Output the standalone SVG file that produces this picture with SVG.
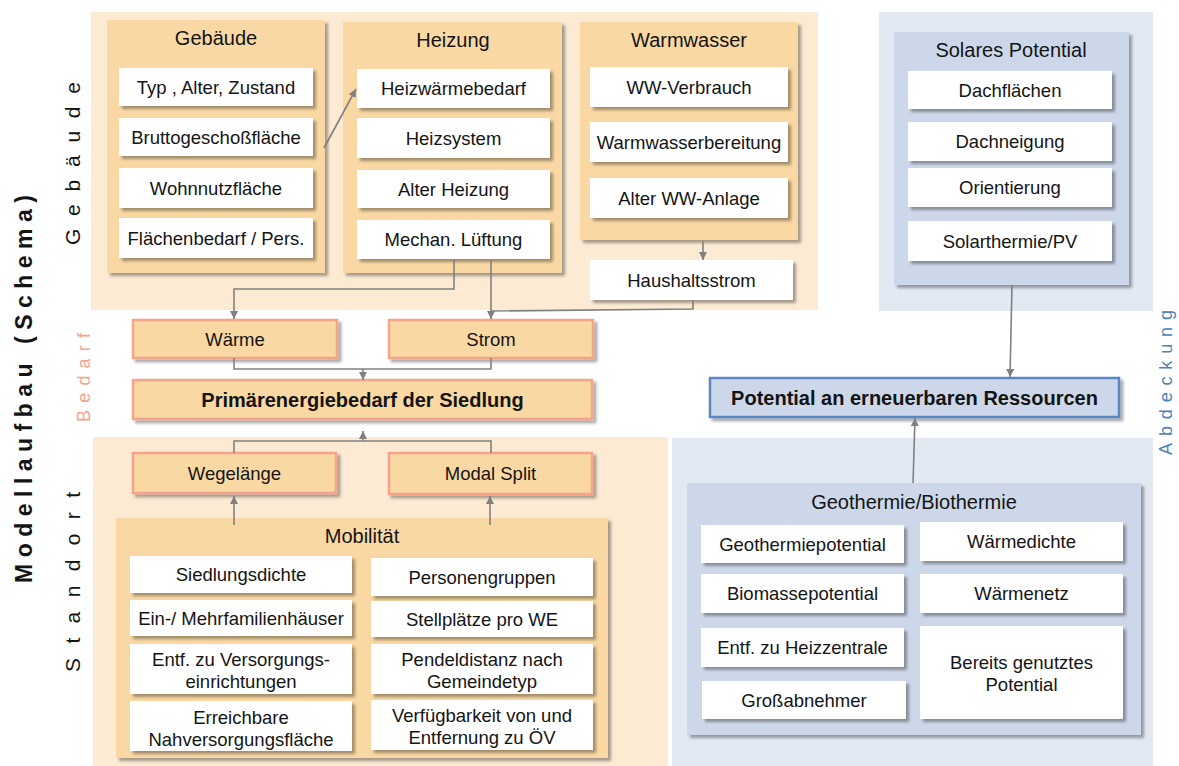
<svg xmlns="http://www.w3.org/2000/svg" width="1179" height="766" viewBox="0 0 1179 766">
<defs>
<filter id="sh" x="-10%" y="-10%" width="125%" height="140%">
<feDropShadow dx="3" dy="3" stdDeviation="1.6" flood-color="#000" flood-opacity="0.35"/>
</filter>
<marker id="ah" viewBox="0 0 8 8" refX="8" refY="4" markerWidth="8" markerHeight="8" markerUnits="userSpaceOnUse" orient="auto">
<path d="M0,0 L8,4 L0,8 z" fill="#808080"/>
</marker>
</defs>
<style>
text{font-family:"Liberation Sans",Arial,sans-serif;fill:#141414;}
.t{font-size:18.5px;text-anchor:middle;}
.ti{font-size:20px;text-anchor:middle;}
.b{font-size:20px;font-weight:bold;text-anchor:middle;}
.bgP{fill:#FCEAD3;}
.bgB{fill:#E3E9F2;}
.grP{fill:#F9D8A3;filter:url(#sh);}
.grB{fill:#CCD8E9;filter:url(#sh);}
.w{fill:#FFFFFF;filter:url(#sh);}
.s{fill:#F9D8A3;stroke:#F5A38B;stroke-width:2.5;filter:url(#sh);}
.pb{fill:#CCD8E9;stroke:#5A86C2;stroke-width:2.5;filter:url(#sh);}
.c{fill:none;stroke:#808080;stroke-width:1.6;}
.ca{fill:none;stroke:#808080;stroke-width:1.6;marker-end:url(#ah);}
.vl{font-size:21px;}
</style>

<!-- backgrounds -->
<rect class="bgP" x="91" y="12" width="727" height="298"/>
<rect class="bgP" x="93" y="437" width="575" height="329"/>
<rect class="bgB" x="879" y="12" width="274" height="299"/>
<rect class="bgB" x="672" y="438" width="481" height="328"/>

<!-- side labels -->
<g id="label-modell"><text transform="translate(32,389) rotate(-90)" x="-194" y="0" textLength="388" lengthAdjust="spacing" style="font-size:23px;font-weight:bold;">Modellaufbau (Schema)</text></g>
<g id="label-gebaeude"><text class="vl" transform="translate(80,163.5) rotate(-90)" x="-81.5" y="0" textLength="163" lengthAdjust="spacing">Gebäude</text></g>
<g id="label-standort"><text class="vl" transform="translate(80,582) rotate(-90)" x="-90" y="0" textLength="180" lengthAdjust="spacing">Standort</text></g>
<g id="label-bedarf"><text transform="translate(90,377.5) rotate(-90)" x="-44.5" y="0" textLength="89" lengthAdjust="spacing" style="font-size:18px;fill:#F5A38B;">Bedarf</text></g>
<g id="label-abdeckung"><text transform="translate(1172,382.5) rotate(-90)" x="-72.5" y="0" textLength="145" lengthAdjust="spacing" style="font-size:18px;fill:#4F81BD;">Abdeckung</text></g>

<!-- Gebäude group -->
<g id="gebaeude">
<rect class="grP" x="107" y="20" width="218" height="253"/>
<text class="ti" x="216" y="45">Gebäude</text>
<rect class="w" x="119" y="68" width="194" height="38"/><text class="t" x="216" y="93.5">Typ , Alter, Zustand</text>
<rect class="w" x="119" y="118" width="194" height="38"/><text class="t" x="216" y="143.5">Bruttogeschoßfläche</text>
<rect class="w" x="119" y="168" width="194" height="40"/><text class="t" x="216" y="194.5">Wohnnutzfläche</text>
<rect class="w" x="119" y="218" width="194" height="40"/><text class="t" x="216" y="244.5">Flächenbedarf / Pers.</text>
</g>

<!-- Heizung group -->
<g id="heizung">
<rect class="grP" x="343" y="22" width="219" height="251"/>
<text class="ti" x="453" y="47">Heizung</text>
<rect class="w" x="357" y="69" width="193" height="39"/><text class="t" x="453.5" y="95">Heizwärmebedarf</text>
<rect class="w" x="357" y="118" width="193" height="40"/><text class="t" x="453.5" y="144.5">Heizsystem</text>
<rect class="w" x="357" y="170" width="193" height="38"/><text class="t" x="453.5" y="195.5">Alter Heizung</text>
<rect class="w" x="357" y="220" width="193" height="39"/><text class="t" x="453.5" y="246">Mechan. Lüftung</text>
</g>

<!-- Warmwasser group -->
<g id="warmwasser">
<rect class="grP" x="580" y="22" width="218" height="218"/>
<text class="ti" x="689" y="47">Warmwasser</text>
<rect class="w" x="590" y="67" width="198" height="40"/><text class="t" x="689" y="93.5">WW-Verbrauch</text>
<rect class="w" x="590" y="122" width="198" height="40"/><text class="t" x="689" y="148.5">Warmwasserbereitung</text>
<rect class="w" x="590" y="178" width="198" height="40"/><text class="t" x="689" y="204.5">Alter WW-Anlage</text>
</g>
<g id="haushaltsstrom">
<rect class="w" x="590" y="260" width="203" height="40"/><text class="t" x="691.5" y="286.5">Haushaltsstrom</text>
</g>

<!-- Bedarf boxes -->
<g id="waerme"><rect class="s" x="133" y="320" width="204" height="38"/><text class="t" x="235" y="345.5">Wärme</text></g>
<g id="strom"><rect class="s" x="389" y="320" width="204" height="38"/><text class="t" x="491" y="345.5">Strom</text></g>
<g id="primaer"><rect class="s" x="133" y="380" width="459" height="39"/><text class="b" x="362.5" y="406.5">Primärenergiebedarf der Siedlung</text></g>
<g id="wegelaenge"><rect class="s" x="133" y="453" width="203" height="40"/><text class="t" x="234.5" y="479.5">Wegelänge</text></g>
<g id="modalsplit"><rect class="s" x="389" y="453" width="203" height="41"/><text class="t" x="490.5" y="480">Modal Split</text></g>

<!-- Mobilität group -->
<g id="mobilitaet">
<rect class="grP" x="116" y="518" width="492" height="240"/>
<text class="ti" x="362" y="543">Mobilität</text>
<rect class="w" x="130" y="556" width="222" height="37"/><text class="t" x="241" y="581">Siedlungsdichte</text>
<rect class="w" x="130" y="600" width="222" height="36"/><text class="t" x="241" y="624.5">Ein-/ Mehrfamilienhäuser</text>
<rect class="w" x="130" y="644" width="222" height="50"/><text class="t" x="241" y="665.5">Entf. zu Versorgungs-</text><text class="t" x="241" y="687.5">einrichtungen</text>
<rect class="w" x="130" y="701" width="222" height="50"/><text class="t" x="241" y="723.5">Erreichbare</text><text class="t" x="241" y="745.5">Nahversorgungsfläche</text>
<rect class="w" x="371" y="558" width="222" height="38"/><text class="t" x="482" y="583.5">Personengruppen</text>
<rect class="w" x="371" y="601" width="222" height="36"/><text class="t" x="482" y="625.5">Stellplätze pro WE</text>
<rect class="w" x="371" y="644" width="222" height="50"/><text class="t" x="482" y="665.5">Pendeldistanz nach</text><text class="t" x="482" y="687.5">Gemeindetyp</text>
<rect class="w" x="371" y="700" width="222" height="50"/><text class="t" x="482" y="721.5">Verfügbarkeit von und</text><text class="t" x="482" y="743.5">Entfernung zu ÖV</text>
</g>

<!-- Solares Potential -->
<g id="solar">
<rect class="grB" x="894" y="32" width="235" height="253"/>
<text class="ti" x="1011" y="57">Solares Potential</text>
<rect class="w" x="908" y="71" width="204" height="38"/><text class="t" x="1010" y="96.5">Dachflächen</text>
<rect class="w" x="908" y="122" width="204" height="39"/><text class="t" x="1010" y="148">Dachneigung</text>
<rect class="w" x="908" y="168" width="204" height="39"/><text class="t" x="1010" y="194">Orientierung</text>
<rect class="w" x="908" y="221" width="204" height="40"/><text class="t" x="1010" y="247.5">Solarthermie/PV</text>
</g>

<g id="potential"><rect class="pb" x="710" y="378" width="409" height="39"/><text class="b" x="914.5" y="405">Potential an erneuerbaren Ressourcen</text></g>

<!-- Geothermie/Biothermie -->
<g id="geo">
<rect class="grB" x="687" y="483" width="454" height="252"/>
<text class="ti" x="914" y="509">Geothermie/Biothermie</text>
<rect class="w" x="701" y="525" width="203" height="38"/><text class="t" x="802.5" y="550.5">Geothermiepotential</text>
<rect class="w" x="701" y="574" width="203" height="39"/><text class="t" x="802.5" y="600">Biomassepotential</text>
<rect class="w" x="701" y="628" width="203" height="39"/><text class="t" x="802.5" y="654">Entf. zu Heizzentrale</text>
<rect class="w" x="702" y="681" width="204" height="38"/><text class="t" x="804" y="706.5">Großabnehmer</text>
<rect class="w" x="920" y="522" width="203" height="39"/><text class="t" x="1021.5" y="548">Wärmedichte</text>
<rect class="w" x="920" y="574" width="203" height="39"/><text class="t" x="1021.5" y="600">Wärmenetz</text>
<rect class="w" x="920" y="626" width="203" height="93"/><text class="t" x="1021.5" y="668.5">Bereits genutztes</text><text class="t" x="1021.5" y="690.5">Potential</text>
</g>

<!-- connectors -->
<g id="connectors">
<path class="ca" d="M324,148 L356,89"/>
<path class="ca" d="M703,241 L703,260"/>
<path class="ca" d="M454,260 L454,289 L234,289 L234,319"/>
<path class="ca" d="M491,260 L491,319"/>
<path class="c" d="M693,300 L693,309 L491,311"/>
<path class="c" d="M234,358 L234,369 L491,369 L491,358"/>
<path class="ca" d="M363,369 L363,380"/>
<path class="c" d="M234,453 L234,441 L491,441 L491,453"/>
<path class="ca" d="M363,441 L363,431"/>
<path class="ca" d="M234,525 L234,496"/>
<path class="ca" d="M490,525 L490,496"/>
<path class="ca" d="M1012,285 L1010,377"/>
<path class="ca" d="M913,483 L915,418"/>
</g>
</svg>
